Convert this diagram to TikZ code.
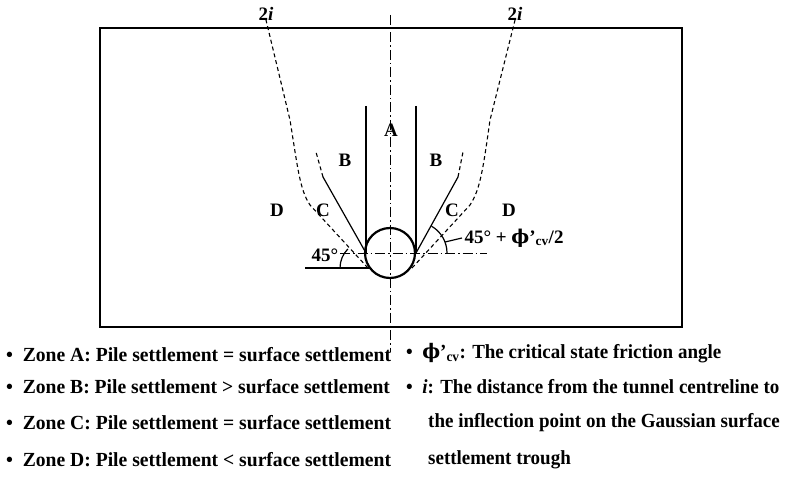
\documentclass[tikz,border=0pt]{standalone}
\usepackage{fontspec}
\setmainfont{Liberation Serif}
\newfontfamily\symfont{DejaVu Serif}
\begin{document}
\begin{tikzpicture}[x=1pt,y=-1pt,
  lbl/.style={font=\fontsize{19}{21}\selectfont\bfseries},
  leg/.style={font=\fontsize{20}{22}\selectfont\bfseries,anchor=west,inner sep=0pt},
  dd/.style={dash pattern=on 4pt off 3pt,line width=1.1pt},
  dc/.style={dash pattern=on 10pt off 3pt on 1.5pt off 3pt,line width=0.8pt},
  sl/.style={line width=1.2pt}]
\useasboundingbox (0,0) rectangle (800,478);
\node[draw,line width=2.2pt,minimum width=582,minimum height=299,inner sep=0pt] (box) at (391,177.5) {};
\coordinate (O) at (390,253);
\node[draw,circle,line width=2.2pt,minimum size=50,inner sep=0pt] (tun) at (O) {};
\coordinate (ct) at (390,15); \coordinate (cb) at (390,352);
\draw[dc] (ct) -- (cb);
\coordinate (hl) at (340,253); \coordinate (hr) at (487,253);
\draw[dc] (hl) -- (hr);
\coordinate (vl) at (366,106); \coordinate (vlb) at (366,253);
\coordinate (vr) at (416,106); \coordinate (vrb) at (416,253);
\draw[sl] (vl) -- (vlb); \draw[sl] (vr) -- (vrb);
\coordinate (cl1) at (323,177); \coordinate (cl2) at (316,152);
\coordinate (cr1) at (458,177); \coordinate (cr2) at (463,152);
\draw[sl] (vlb) -- (cl1); \draw[dd] (cl1) -- (cl2);
\draw[sl] (vrb) -- (cr1); \draw[dd] (cr1) -- (cr2);
\draw[dd] (368,268) -- (310,205) .. controls (300,190) and (298,170) .. (290,120) -- (266,20);
\draw[dd] (412,268) -- (470,205) .. controls (480,190) and (483,170) .. (490,120) -- (515,20);
\coordinate (g1) at (305,268); \coordinate (g2) at (370,268);
\draw[sl] (g1) -- (g2);
\draw[sl] (340,268) arc[start angle=180,end angle=225,radius=27];
\draw[sl] (447,253) arc[start angle=0,end angle=-60,radius=31];
\draw[sl] (445,242) -- (462,238);
\node[lbl] (A) at (391,130) {A};
\node[lbl] (B1) at (345,160) {B};
\node[lbl] (B2) at (436,160) {B};
\node[lbl] (C1) at (323,210) {C};
\node[lbl] (C2) at (452,210) {C};
\node[lbl] (D1) at (277,210) {D};
\node[lbl] (D2) at (509,210) {D};
\node[lbl] (a45) at (325,255) {45°};
\node[lbl,anchor=west] (a2) at (461,238) {45° + {\symfont ϕ}’\textsubscript{cv}/2};
\node[lbl] (i1) at (266,14) {2\textit{i}};
\node[lbl] (i2) at (515,14) {2\textit{i}};
\foreach \y/\t [count=\k] in {355/{Zone A: Pile settlement = surface settlement},387/{Zone B: Pile settlement > surface settlement},423/{Zone C: Pile settlement = surface settlement},460/{Zone D: Pile settlement < surface settlement}}
  \node[leg] (L\k) at (6,\y) {\scalebox{0.98}[1]{\textbullet\ \ \t}};
\node[leg] (R1) at (406,353) {\scalebox{0.95}[1]{\textbullet\ \ {\symfont ϕ}’\textsubscript{cv}: The critical state friction angle}};
\node[leg] (R2) at (406,387) {\scalebox{0.95}[1]{\textbullet\ \ \textit{i}: The distance from the tunnel centreline to}};
\node[leg] (R3) at (428,423) {\scalebox{0.95}[1]{the inflection point on the Gaussian surface}};
\node[leg] (R4) at (428,460) {\scalebox{0.95}[1]{settlement trough}};
\end{tikzpicture}
\end{document}
